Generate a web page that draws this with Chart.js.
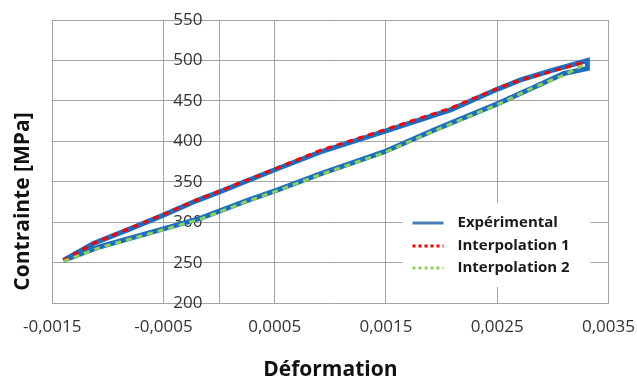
<!DOCTYPE html>
<html>
<head>
<meta charset="utf-8">
<script src="https://cdn.jsdelivr.net/npm/chart.js@4.4.0/dist/chart.umd.min.js"></script>
<style>
  html, body { margin: 0; padding: 0; background: #fff; }
</style>
</head>
<body>
<canvas id="myChart" width="637" height="383"></canvas>
<script>
// experimental loop: loading branch, then unloading branch back to start
const expStrain = [-0.00140, -0.00113, -0.00080, -0.00050, -0.00020, 0.00001, 0.00050, 0.00091, 0.00148, 0.00208, 0.00251, 0.00271, 0.00300, 0.00331,
                   0.00331, 0.00310, 0.00283, 0.00251, 0.00193, 0.00148, 0.00091, 0.00052, 0.00025, -0.00017, -0.00050, -0.00107, -0.00140];
const expStress = [253, 274, 292, 309, 327, 338, 365, 387, 412, 439, 465, 476, 488, 500,
                   490, 484, 467, 447, 414, 387, 360, 340, 327, 305, 292, 270, 253];

const interp1Strain = [-0.00140, -0.00113, -0.00080, -0.00050, -0.00020, 0.00001, 0.00050, 0.00091, 0.00148, 0.00208, 0.00251, 0.00271, 0.00300, 0.00331];
const interp1Stress = [253, 274, 293, 310, 328, 339, 366, 389, 414, 441, 466, 476, 487, 499];

const interp2Strain = [-0.00140, -0.00107, -0.00050, -0.00017, 0.00025, 0.00052, 0.00091, 0.00148, 0.00193, 0.00251, 0.00283, 0.00310, 0.00331];
const interp2Stress = [252, 269, 291, 304, 326, 339, 359, 386, 413, 446, 467, 482, 497];

const xTicks = [-0.0015, -0.0005, 0.0005, 0.0015, 0.0025, 0.0035];
const xTickLabels = ['-0,0015', '-0,0005', '0,0005', '0,0015', '0,0025', '0,0035'];
const yTickLabels = ['200', '250', '300', '350', '400', '450', '500', '550'];

const seriesNames = ['Expérimental', 'Interpolation 1', 'Interpolation 2'];
const seriesColors = ['#1a6fc1', '#ff0000', '#92d050'];

const gridColor = '#a3a3a3';
const fontFamily = '"Open Sans", sans-serif';
// y labels sit a little left of the strain-0 axis line
const yLabelStrain = -0.00015;

function toPoints(xs, ys) {
    return xs.map(function (x, i) { return { x: x, y: ys[i] }; });
}

// legend box drawn inside the plot area, like the Excel one
const innerLegend = {
    id: 'innerLegend',
    afterDraw(chart) {
        const c = chart.ctx;
        const area = chart.chartArea;
        const left = area.right - 206;
        const top = area.top + 183;
        c.save();
        c.fillStyle = '#fff';
        c.fillRect(left, top, 188, 84);
        c.font = 'bold 15px ' + fontFamily;
        c.textBaseline = 'middle';
        const rows = [20, 43, 65];
        for (let i = 0; i < 3; i++) {
            const y = top + rows[i];
            c.beginPath();
            c.strokeStyle = i === 0 ? '#4a7ebb' : seriesColors[i];
            c.lineWidth = 3;
            c.setLineDash(i === 0 ? [] : [3, 3]);
            c.moveTo(left + 10, y);
            c.lineTo(left + 41, y);
            c.stroke();
            c.setLineDash([]);
            c.fillStyle = '#1a1a1a';
            c.fillText(seriesNames[i], left + 55, y);
        }
        c.restore();
    }
};

const ctx = document.getElementById('myChart');

const myChart = new Chart(ctx, {
    type: 'line',
    data: {
        datasets: [{
            label: seriesNames[0],
            data: toPoints(expStrain, expStress),
            borderColor: seriesColors[0],
            borderWidth: 5,
            pointRadius: 0,
            tension: 0,
            order: 3
        }, {
            label: seriesNames[1],
            data: toPoints(interp1Strain, interp1Stress),
            borderColor: seriesColors[1],
            borderWidth: 3,
            borderDash: [6, 5],
            pointRadius: 0,
            tension: 0,
            order: 2
        }, {
            label: seriesNames[2],
            data: toPoints(interp2Strain, interp2Stress),
            borderColor: seriesColors[2],
            borderWidth: 3,
            borderDash: [6, 5],
            pointRadius: 0,
            tension: 0,
            order: 1
        }]
    },
    options: {
        responsive: false,
        animation: false,
        layout: {
            padding: { left: 10, right: 17, top: 20, bottom: 0 }
        },
        plugins: {
            legend: { display: false },
            tooltip: { enabled: false }
        },
        scales: {
            x: {
                type: 'linear',
                min: -0.0015,
                max: 0.0035,
                afterBuildTicks: function (axis) {
                    axis.ticks = xTicks.map(function (v) { return { value: v }; });
                },
                ticks: {
                    color: '#333',
                    font: { family: fontFamily, size: 17 },
                    padding: 2,
                    maxRotation: 0,
                    autoSkip: false,
                    callback: function (value, index) { return xTickLabels[index]; }
                },
                grid: { color: gridColor, tickLength: 12, tickColor: 'rgba(0,0,0,0)' },
                border: { color: gridColor },
                title: {
                    display: true,
                    text: 'Déformation',
                    color: '#111',
                    font: { family: fontFamily, size: 21, weight: 'bold' },
                    padding: { top: 18, bottom: 0 }
                }
            },
            // value axis crossing at strain 0: line + horizontal grid
            y: {
                position: { x: 0 },
                min: 200,
                max: 550,
                ticks: { stepSize: 50, display: false },
                grid: { color: gridColor, drawTicks: false },
                border: { color: gridColor }
            },
            // same scale, only the tick labels
            yLabels: {
                position: { x: yLabelStrain },
                min: 200,
                max: 550,
                ticks: {
                    stepSize: 50,
                    padding: 0,
                    color: '#333',
                    font: { family: fontFamily, size: 17 },
                    callback: function (value, index) { return yTickLabels[index]; }
                },
                grid: { display: false, drawTicks: false },
                border: { display: false }
            },
            // holds only the axis title on the far left
            yTitle: {
                position: 'left',
                fullSize: true,
                ticks: { display: false },
                grid: { display: false },
                border: { display: false },
                title: {
                    display: true,
                    text: 'Contrainte [MPa]',
                    color: '#111',
                    font: { family: fontFamily, size: 21, weight: 'bold' },
                    padding: { top: 0, bottom: 9 }
                }
            }
        }
    },
    plugins: [innerLegend]
});
</script>
</body>
</html>
